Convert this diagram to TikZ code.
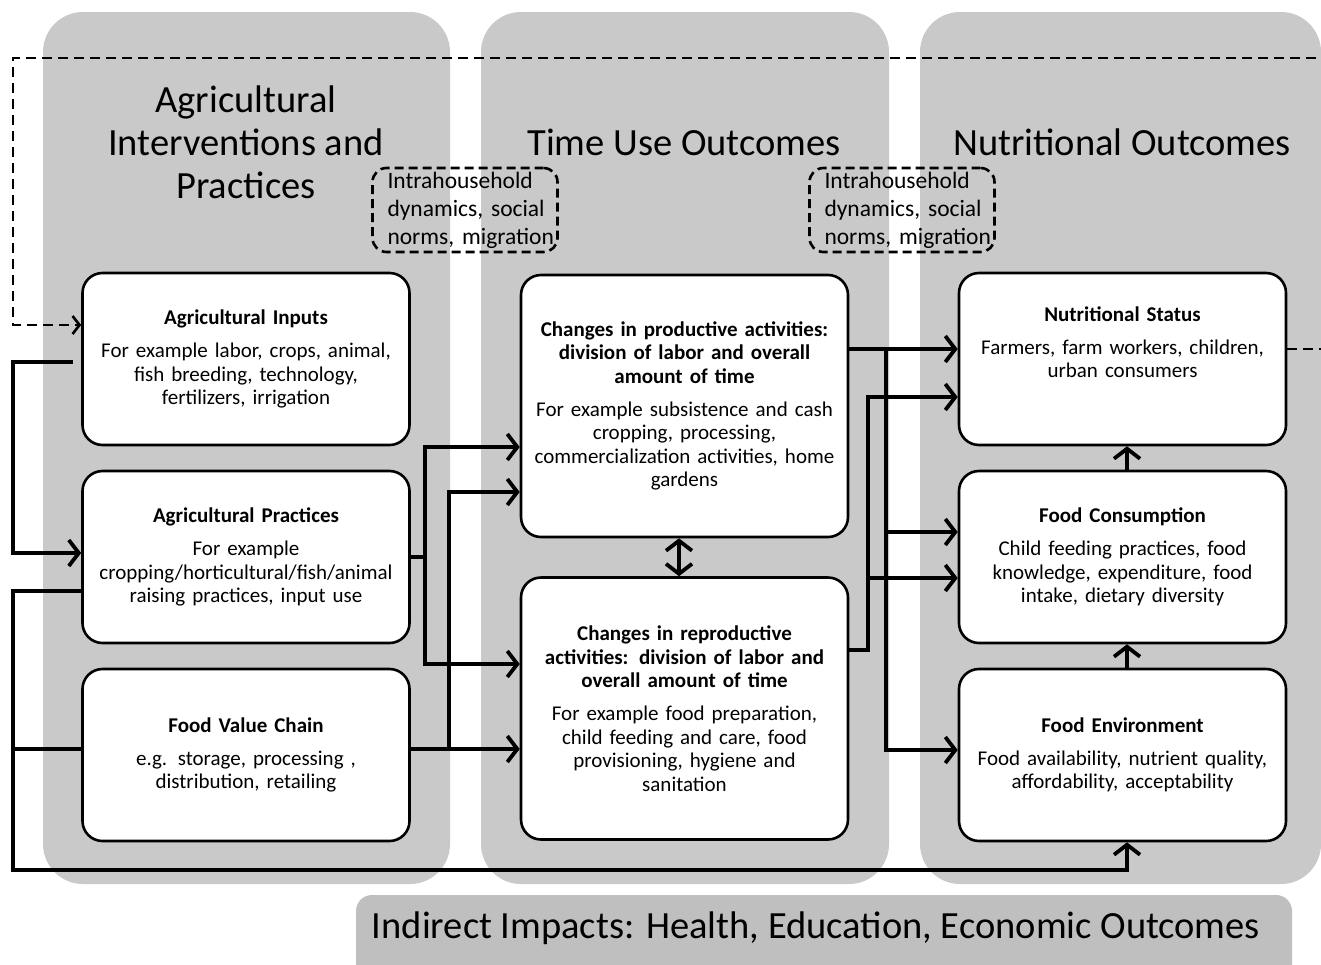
\documentclass[tikz,border=0pt]{standalone}
\usepackage{fontspec}
\setmainfont{Carlito}
\usepackage{tikz}
\usetikzlibrary{arrows.meta, positioning}

\begin{document}
\begin{tikzpicture}
  [
    x=1pt, y=-1pt,
    Column/.style={fill=black!21, rounded corners=40pt},
    Bar/.style={fill=black!25, rounded corners=16pt},
    Title/.style={align=center, font=\fontsize{38.5}{43}\selectfont},
    Box/.style={draw=black, fill=white, line width=2.6pt, rounded corners=20pt,
      minimum width=327pt, minimum height=172pt, text width=321pt, inner xsep=3pt,
      align=center, font=\fontsize{21}{23.5}\selectfont},
    Tall/.style={Box, minimum height=262pt},
    Dashbox/.style={draw=black, line width=2.6pt, dash pattern=on 9pt off 5pt,
      rounded corners=14pt, minimum width=185pt, minimum height=84pt,
      text width=155pt, inner xsep=15pt, align=left, font=\fontsize{23.5}{28}\selectfont},
    Line/.style={line width=3.5pt},
    Arrow/.style={Line, -{Straight Barb[length=10pt, width=26pt, line width=3.8pt]}},
    Both/.style={Line, {Straight Barb[length=10pt, width=26pt, line width=3.8pt]}-{Straight Barb[length=10pt, width=26pt, line width=3.8pt]}},
    DashArrow/.style={line width=2.6pt, dash pattern=on 10pt off 6pt,
      -{Straight Barb[length=7pt, width=18pt, line width=2.6pt]}}
  ]
  \useasboundingbox (0,0) rectangle (1321,964);
  \clip (0,0) rectangle (1321,964);
  % Panels
  \fill[Column] (43,12) rectangle (450,884);
  \fill[Column] (481,12) rectangle (889,884);
  \fill[Column] (920,12) rectangle (1321,884);
  \fill[Bar] (356,895) rectangle (1292,990);
  % Titles
  \node[Title] (tagri) at (246,142) {Agricultural\\Interventions and\\Practices};
  \node[Title] (ttime) at (684,142) {Time Use Outcomes};
  \node[Title] (tnutr) at (1122,142) {Nutritional Outcomes};
  \node[font=\fontsize{38.5}{43}\selectfont] (impacts) at (816,928)
    {Indirect Impacts: Health, Education, Economic Outcomes};
  % Nodes
  \node[Dashbox] (intra1) at (465,210)
    {\mbox{Intrahousehold}\\\mbox{dynamics, social}\\\mbox{norms, migration}};
  \node[Dashbox] (intra2) at (902,210)
    {\mbox{Intrahousehold}\\\mbox{dynamics, social}\\\mbox{norms, migration}};
  \node[Box] (AI) at (246,359) {\textbf{Agricultural Inputs}\\[9.5pt]
    For example labor, crops, animal,\\fish breeding, technology,\\fertilizers, irrigation};
  \node[Box] (AP) at (246,557) {\textbf{Agricultural Practices}\\[9.5pt]
    For example\\cropping/horticultural/fish/animal\\raising practices, input use};
  \node[Box] (FVC) at (246,755) {\textbf{Food Value Chain}\\[9.5pt]
    e.g. storage, processing ,\\distribution, retailing};
  \node[Tall] (PA) at (684.5,406) {\textbf{Changes in productive activities:}\\
    \textbf{division of labor and overall}\\\textbf{amount of time}\\[9.5pt]
    For example subsistence and cash\\cropping, processing,\\
    commercialization activities, home\\gardens};
  \node[Tall] (RA) at (684.5,708.5) {\textbf{Changes in reproductive}\\
    \textbf{activities: division of labor and}\\\textbf{overall amount of time}\\[9.5pt]
    For example food preparation,\\child feeding and care, food\\
    provisioning, hygiene and\\sanitation};
  \node[Box] (NS) at (1122.5,359) {\textbf{Nutritional Status}\\[9.5pt]
    Farmers, farm workers, children,\\urban consumers\\[10pt]\mbox{}};
  \node[Box] (FC) at (1122.5,557) {\textbf{Food Consumption}\\[9.5pt]
    Child feeding practices, food\\knowledge, expenditure, food\\intake, dietary diversity};
  \node[Box] (FE) at (1122.5,755) {\textbf{Food Environment}\\[9.5pt]
    Food availability, nutrient quality,\\affordability, acceptability};
  \coordinate (aiout) at (73,362);
  % Lines
  \path [DashArrow, draw] ([yshift=10pt]NS.east) -- (1340,349) |- (13,58) |- ([yshift=34pt]AI.west);
  \path [Arrow, draw] (aiout) -- (13,362) |- ([yshift=4pt]AP.west);
  \path [Arrow, draw] ([yshift=-34pt]AP.west) -- (13,591) |- (1127,870) -- ([xshift=4.5pt]FE.south);
  \path [Line, draw] ([yshift=6pt]FVC.west) -- (13,749);
  \path [Arrow, draw] (AP.east) -- (425,557) |- ([yshift=-41pt]PA.west);
  \path [Arrow, draw] (AP.east) -- (425,557) |- ([yshift=44.5pt]RA.west);
  \path [Arrow, draw] ([yshift=6pt]FVC.east) -- ([yshift=-40.5pt]RA.west);
  \path [Arrow, draw] ([yshift=6pt]FVC.east) -- (449,749) |- ([yshift=-86pt]PA.west);
  \path [Both, draw] ([xshift=-5.5pt]PA.south) -- ([xshift=-5.5pt]RA.north);
  \path [Arrow, draw] ([yshift=57pt]PA.east) -- ([yshift=10pt]NS.west);
  \path [Arrow, draw] ([yshift=57pt]PA.east) -- (886,349) |- ([yshift=25pt]FC.west);
  \path [Arrow, draw] ([yshift=57pt]PA.east) -- (886,349) |- ([yshift=5pt]FE.west);
  \path [Arrow, draw] ([yshift=58.5pt]RA.east) -- (868,650) |- ([yshift=-38pt]NS.west);
  \path [Arrow, draw] ([yshift=58.5pt]RA.east) -- (868,650) |- ([yshift=-21pt]FC.west);
  \path [Arrow, draw] ([xshift=4.5pt]FE.north) -- ([xshift=4.5pt]FC.south);
  \path [Arrow, draw] ([xshift=4.5pt]FC.north) -- ([xshift=4.5pt]NS.south);
\end{tikzpicture}
\end{document}
